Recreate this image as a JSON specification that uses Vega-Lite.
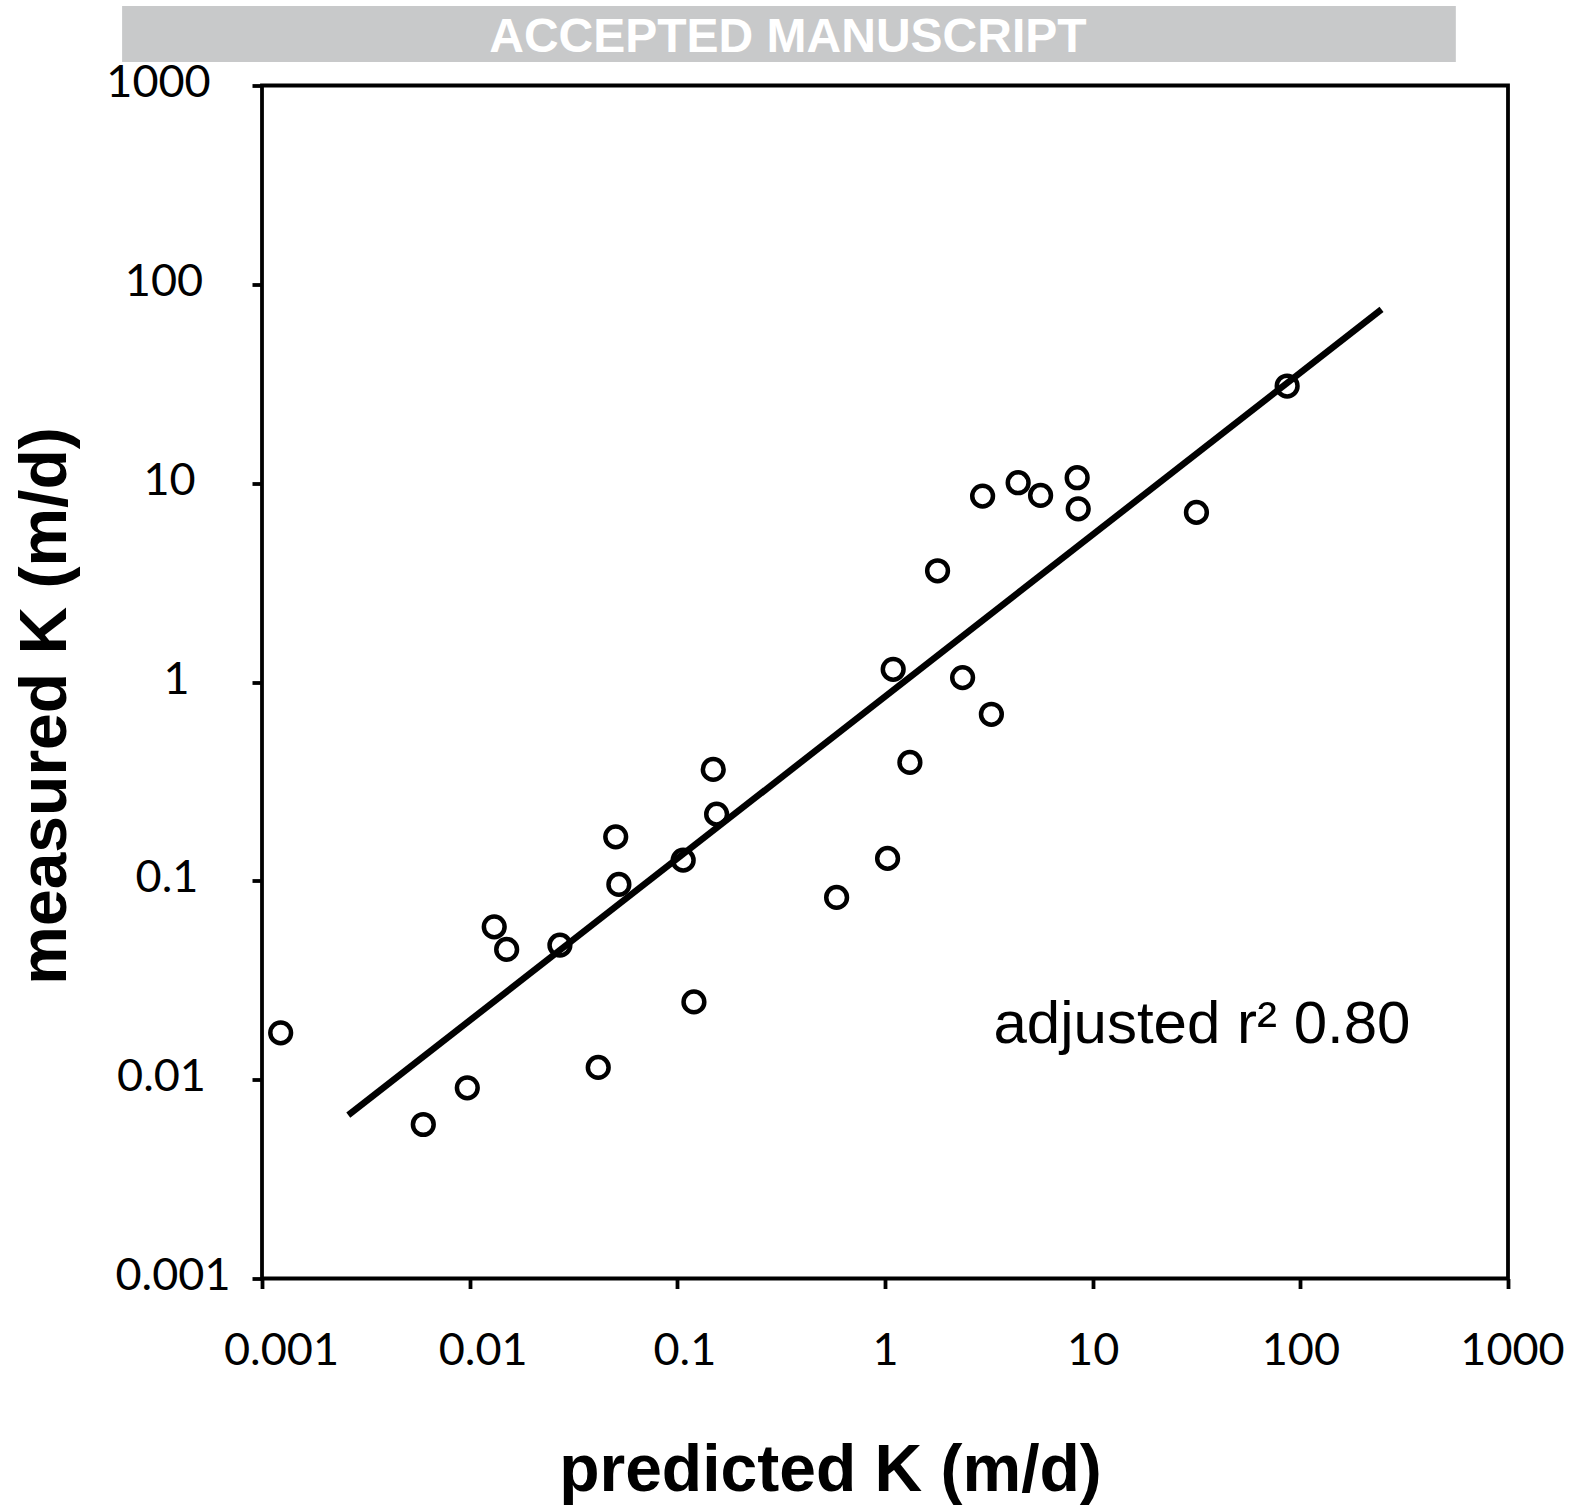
{
  "$schema": "https://vega.github.io/schema/vega-lite/v6.json",
  "width": 1246,
  "height": 1193,
  "autosize": {"type": "none"},
  "padding": {"left": 262, "top": 85.5, "right": 65, "bottom": 226.5},
  "background": "white",
  "config": {
    "view": {"stroke": "black", "strokeWidth": 3.8},
    "axis": {"grid": false, "domain": false, "tickColor": "black", "tickWidth": 3.8, "tickSize": 10, "labelColor": "black", "titleColor": "black", "labelFont": "Lato", "labelFontSize": 45, "titleFont": "Liberation Sans", "titleFontWeight": "bold", "titleFontSize": 66, "labelFlush": false, "labelOverlap": false, "labelBound": false}
  },
  "datasets": {
    "points": [
      {"pred": 0.00123, "meas": 0.0172},
      {"pred": 0.00598, "meas": 0.00595},
      {"pred": 0.00974, "meas": 0.0091},
      {"pred": 0.01313, "meas": 0.0587},
      {"pred": 0.01507, "meas": 0.0452},
      {"pred": 0.0272, "meas": 0.0475},
      {"pred": 0.0416, "meas": 0.01152},
      {"pred": 0.0505, "meas": 0.1665},
      {"pred": 0.0523, "meas": 0.0959},
      {"pred": 0.1067, "meas": 0.1271},
      {"pred": 0.1202, "meas": 0.0246},
      {"pred": 0.1489, "meas": 0.3634},
      {"pred": 0.1546, "meas": 0.2165},
      {"pred": 0.5848, "meas": 0.0825},
      {"pred": 1.029, "meas": 0.1297},
      {"pred": 1.095, "meas": 1.158},
      {"pred": 1.318, "meas": 0.394},
      {"pred": 1.791, "meas": 3.626},
      {"pred": 2.364, "meas": 1.052},
      {"pred": 2.951, "meas": 8.61},
      {"pred": 3.253, "meas": 0.688},
      {"pred": 4.377, "meas": 10.05},
      {"pred": 5.613, "meas": 8.68},
      {"pred": 8.42, "meas": 10.65},
      {"pred": 8.52, "meas": 7.43},
      {"pred": 31.6, "meas": 7.13},
      {"pred": 86.4, "meas": 30.8}
    ],
    "fit": [
      {"pred": 0.002603, "meas": 0.00663},
      {"pred": 246, "meas": 74.8}
    ],
    "banner": [
      {"pred": 0.000212, "pred2": 560.8, "meas": 1313, "meas2": 2512, "center": 0.3407, "base": 1474, "label": "ACCEPTED MANUSCRIPT"}
    ],
    "note": [
      {"pred": 3.33, "meas": 0.01527, "label": "adjusted r² 0.80"}
    ]
  },
  "layer": [
    {
      "data": {"name": "banner"},
      "mark": {"type": "rect", "color": "#c8c9ca"},
      "encoding": {
        "x": {"field": "pred", "type": "quantitative", "title": "predicted K (m/d)", "scale": {"type": "log", "domain": [0.001, 1000], "nice": false}},
        "x2": {"field": "pred2"},
        "y": {"field": "meas", "type": "quantitative", "title": "measured K (m/d)", "scale": {"type": "log", "domain": [0.001, 1000], "nice": false}},
        "y2": {"field": "meas2"}
      }
    },
    {
      "data": {"name": "banner"},
      "mark": {"type": "text", "color": "white", "font": "Liberation Sans", "fontWeight": "bold", "fontSize": 48, "align": "center", "baseline": "alphabetic"},
      "encoding": {
        "x": {"field": "center", "type": "quantitative", "title": "predicted K (m/d)"},
        "y": {"field": "base", "type": "quantitative", "title": "measured K (m/d)"},
        "text": {"field": "label"}
      }
    },
    {
      "data": {"name": "fit"},
      "mark": {"type": "line", "color": "black", "strokeWidth": 6.5, "strokeCap": "butt"},
      "encoding": {
        "x": {"field": "pred", "type": "quantitative", "title": "predicted K (m/d)"},
        "y": {"field": "meas", "type": "quantitative", "title": "measured K (m/d)"}
      }
    },
    {
      "data": {"name": "points"},
      "mark": {"type": "point", "shape": "circle", "filled": false, "color": "black", "strokeWidth": 4.5, "size": 430, "opacity": 1},
      "encoding": {
        "x": {"field": "pred", "type": "quantitative", "title": "predicted K (m/d)",
          "axis": {"values": [0.001, 0.01, 0.1, 1, 10, 100, 1000], "format": "~g", "labelBaseline": "middle", "labelPadding": 62, "titleX": 568, "titleY": 212, "titleBaseline": "alphabetic",
            "labelOffset": {"condition": [{"test": "datum.value < 0.005", "value": 19}, {"test": "datum.value < 0.05", "value": 13}, {"test": "datum.value < 0.5", "value": 7}, {"test": "datum.value > 500", "value": 4}], "value": 0}}},
        "y": {"field": "meas", "type": "quantitative", "title": "measured K (m/d)",
          "axis": {"values": [0.001, 0.01, 0.1, 1, 10, 100, 1000], "format": "~g", "labelAlign": "center", "labelBaseline": "middle", "labelOffset": -3, "titleX": -197, "titleY": 620, "titleAngle": 270, "titleBaseline": "alphabetic",
            "labelPadding": {"condition": [{"test": "datum.value > 500", "value": 94}, {"test": "datum.value > 50", "value": 88.5}, {"test": "datum.value > 5", "value": 83}, {"test": "datum.value > 0.5", "value": 76}, {"test": "datum.value > 0.05", "value": 85.5}, {"test": "datum.value > 0.005", "value": 91}], "value": 79.5}}}
      }
    },
    {
      "data": {"name": "note"},
      "mark": {"type": "text", "color": "black", "font": "Liberation Sans", "fontSize": 60, "align": "left", "baseline": "alphabetic"},
      "encoding": {
        "x": {"field": "pred", "type": "quantitative", "title": "predicted K (m/d)"},
        "y": {"field": "meas", "type": "quantitative", "title": "measured K (m/d)"},
        "text": {"field": "label"}
      }
    }
  ]
}
